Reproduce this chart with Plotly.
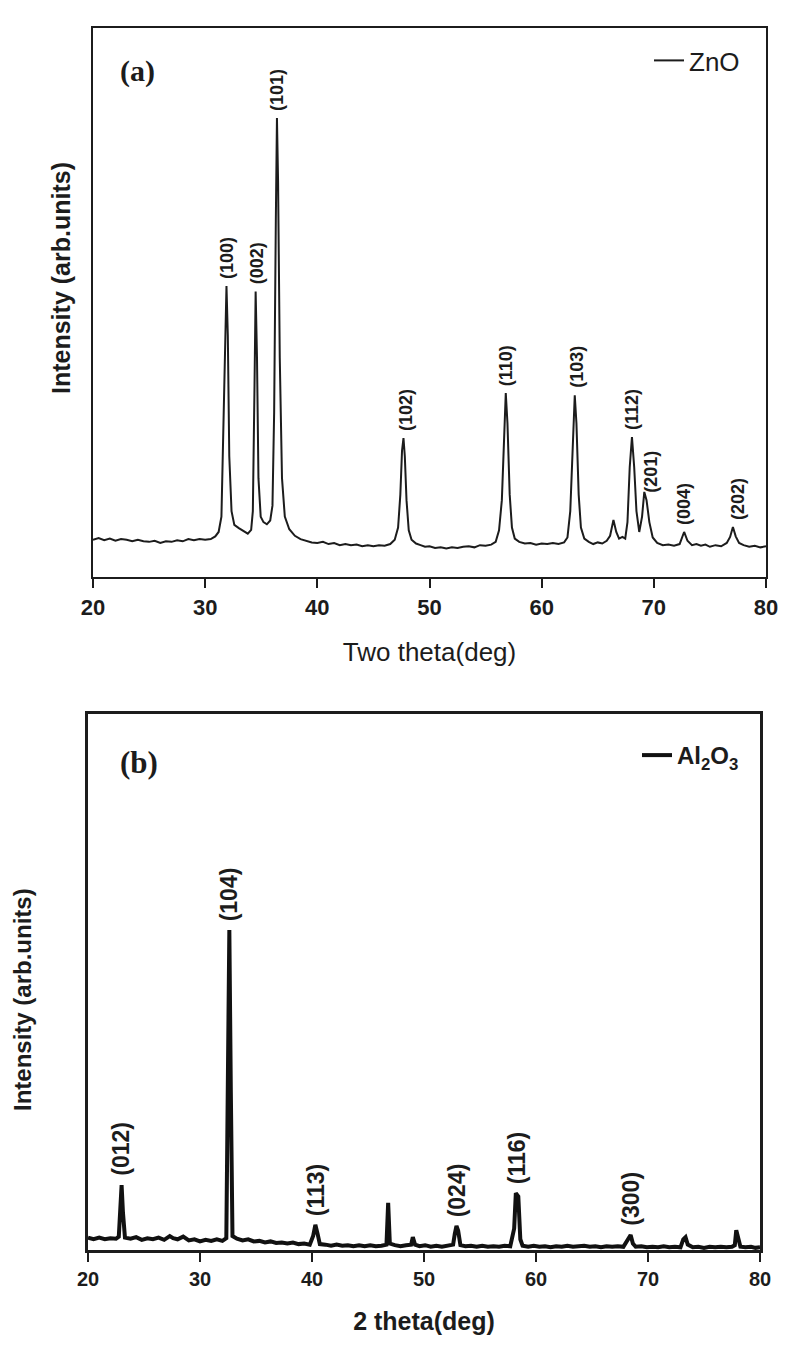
import plotly.graph_objects as go

# ---------------- data: panel (a) ZnO ----------------
zno_two_theta = [20.0, 20.5, 21.0, 21.5, 22.0, 22.5, 23.0, 23.5, 24.0, 24.5, 25.0, 25.5, 26.0, 26.5, 27.0, 27.5,
                 28.0, 28.5, 29.0, 29.5, 30.0, 30.5, 30.9, 31.2, 31.45, 31.65, 31.9, 32.02, 32.15, 32.35, 32.6,
                 33.0, 33.4, 33.8, 34.1, 34.25, 34.4, 34.5, 34.62, 34.75, 34.95, 35.2, 35.5, 35.8, 36.0, 36.15,
                 36.3, 36.4, 36.5, 36.65, 36.85, 37.1, 37.5, 38.0, 38.5, 39.0, 39.5, 40.0, 40.5, 41.0, 41.5,
                 42.0, 42.5, 43.0, 43.5, 44.0, 44.5, 45.0, 45.5, 46.0, 46.5, 46.9, 47.2, 47.4, 47.55, 47.68,
                 47.8, 47.95, 48.15, 48.4, 48.8, 49.2, 49.6, 50.0, 50.5, 51.0, 51.5, 52.0, 52.5, 53.0, 53.5,
                 54.0, 54.5, 55.0, 55.5, 55.9, 56.2, 56.45, 56.65, 56.8, 56.95, 57.15, 57.35, 57.6, 58.0, 58.5,
                 59.0, 59.5, 60.0, 60.5, 61.0, 61.5, 62.0, 62.3, 62.55, 62.78, 62.95, 63.1, 63.3, 63.5, 63.8,
                 64.2, 64.6, 65.0, 65.4, 65.8, 66.1, 66.4, 66.65, 66.9, 67.2, 67.45, 67.65, 67.85, 68.05, 68.25,
                 68.45, 68.7, 68.95, 69.15, 69.35, 69.6, 69.9, 70.3, 70.8, 71.3, 71.8, 72.3, 72.7, 73.0, 73.4,
                 73.8, 74.2, 74.6, 75.0, 75.5, 76.0, 76.5, 76.8, 77.05, 77.3, 77.6, 78.0, 78.5, 79.0, 79.5, 80.0]
zno_intensity = [6.8, 7.1, 6.7, 7.0, 6.6, 6.9, 6.8, 6.5, 6.8, 6.5, 6.4, 6.6, 6.2, 6.5, 6.4, 6.7,
                 6.5, 6.9, 6.7, 6.9, 6.8, 6.9, 7.4, 8.2, 11.0, 30.0, 53.0, 44.0, 22.0, 12.0, 9.5,
                 8.9, 8.4, 7.9, 8.6, 12.0, 35.0, 52.0, 40.0, 18.0, 11.0, 10.0, 9.6, 10.3, 13.0, 30.0,
                 65.0, 83.6, 72.0, 40.0, 18.0, 11.0, 8.7, 7.5, 6.9, 6.6, 6.3, 6.2, 6.4, 6.0, 6.2,
                 5.8, 6.0, 5.8, 5.9, 5.6, 5.8, 5.6, 5.8, 5.7, 6.0, 6.8, 9.0, 15.0, 23.0, 25.3,
                 22.0, 14.0, 8.5, 6.8, 6.1, 5.8, 5.5, 5.6, 5.3, 5.4, 5.2, 5.4, 5.3, 5.5, 5.6,
                 5.4, 5.8, 5.7, 5.9, 6.4, 8.5, 14.0, 27.0, 33.5, 28.0, 15.0, 9.0, 7.0, 6.4, 6.1,
                 6.2, 5.9, 6.1, 6.0, 6.2, 6.0, 6.3, 7.2, 12.0, 25.0, 33.1, 28.0, 15.0, 9.0, 7.0,
                 6.4, 6.0, 6.3, 6.1, 6.6, 7.5, 10.4, 8.2, 7.0, 7.3, 7.0, 10.0, 20.0, 25.5, 20.0,
                 12.0, 8.2, 11.0, 15.5, 14.0, 10.0, 7.2, 6.2, 5.8, 5.9, 5.7, 6.0, 8.2, 6.6, 5.8,
                 6.0, 5.7, 5.9, 5.5, 5.8, 5.6, 6.2, 7.3, 9.1, 7.4, 6.2, 5.8, 5.5, 5.7, 5.4, 5.6]
zno_hkl = ["(100)", "(002)", "(101)", "(102)", "(110)", "(103)", "(112)", "(201)", "(004)", "(202)"]
zno_peak_pos = [31.95, 34.6, 36.4, 47.9, 56.8, 63.2, 68.0, 69.8, 72.7, 77.5]

# ---------------- data: panel (b) Al2O3 ----------------
al_two_theta = [20.0, 20.5, 21.0, 21.5, 22.0, 22.5, 22.75, 22.9, 23.0, 23.12, 23.3, 23.8, 24.3, 24.8, 25.3,
                25.8, 26.3, 26.8, 27.3, 27.6, 28.0, 28.5, 29.0, 29.5, 30.0, 30.5, 31.0, 31.5, 32.0, 32.35,
                32.5, 32.62, 32.75, 32.9, 33.3, 33.8, 34.3, 34.8, 35.3, 35.8, 36.3, 36.8, 37.3, 37.8, 38.3,
                38.8, 39.3, 39.8, 40.1, 40.3, 40.5, 40.7, 41.2, 41.7, 42.2, 42.7, 43.2, 43.7, 44.2, 44.7,
                45.2, 45.7, 46.2, 46.65, 46.8, 46.95, 47.4, 47.9, 48.4, 48.85, 49.0, 49.2, 49.6, 50.1, 50.6,
                51.1, 51.6, 52.1, 52.6, 52.75, 52.9, 53.05, 53.25, 53.7, 54.2, 54.7, 55.2, 55.7, 56.2, 56.7,
                57.2, 57.7, 58.05, 58.2, 58.42, 58.6, 58.8, 59.3, 59.8, 60.3, 60.8, 61.3, 61.8, 62.3, 62.8,
                63.3, 63.8, 64.3, 64.8, 65.3, 65.8, 66.3, 66.8, 67.3, 67.8, 68.25, 68.45, 68.65, 68.9, 69.4,
                69.9, 70.4, 70.9, 71.4, 71.9, 72.4, 72.9, 73.15, 73.35, 73.55, 74.0, 74.5, 75.0, 75.5, 76.0,
                76.5, 77.0, 77.5, 77.75, 77.88, 78.05, 78.25, 78.7, 79.2, 79.6, 80.0]
al_intensity = [2.3, 2.0, 2.3, 2.0, 2.2, 2.1, 2.5, 8.0, 12.1, 7.0, 2.3, 2.1, 2.4, 1.9, 2.2,
                2.0, 2.3, 1.9, 2.6, 2.2, 2.0, 2.5, 1.8, 2.0, 1.6, 1.9, 1.7, 2.0, 1.7, 2.2,
                30.0, 59.7, 30.0, 2.6, 2.1, 1.8, 2.0, 1.6, 1.7, 1.4, 1.6, 1.3, 1.4, 1.2, 1.4,
                1.1, 1.2, 1.0, 2.6, 4.7, 3.0, 1.1, 1.0, 0.8, 1.0, 0.8, 0.9, 0.7, 0.9, 0.7,
                0.9, 0.7, 0.8, 1.0, 8.8, 1.2, 0.9, 0.7, 0.9, 1.0, 2.4, 1.0, 0.7, 0.9, 0.6,
                0.8, 0.6, 0.8, 1.0, 3.0, 4.5, 3.6, 0.9, 0.7, 0.8, 0.6, 0.8, 0.6, 0.7, 0.6,
                0.8, 0.7, 4.0, 10.6, 10.0, 2.0, 0.8, 0.6, 0.8, 0.6, 0.7, 0.5, 0.7, 0.6, 0.8,
                0.6, 0.7, 0.8, 0.6, 0.7, 0.5, 0.7, 0.6, 0.7, 0.6, 2.3, 2.8, 1.2, 0.6, 0.7,
                0.5, 0.6, 0.5, 0.7, 0.5, 0.6, 0.5, 2.0, 2.4, 1.0, 0.5, 0.6, 0.4, 0.6, 0.5,
                0.6, 0.5, 0.6, 0.9, 3.7, 2.5, 0.6, 0.5, 0.6, 0.4, 0.5]
al_hkl = ["(012)", "(104)", "(113)", "(024)", "(116)", "(300)"]
al_peak_pos = [23.0, 32.62, 40.3, 52.9, 58.3, 68.45]

x_ticks = [20, 30, 40, 50, 60, 70, 80]

SANS = "Liberation Sans, Arial, sans-serif"
SERIF = "Liberation Serif, Times New Roman, serif"
INK = "#1c1c1c"

# the page body has an 8px margin: figure spans window px 8..787 / 8..1355
OFF = 8
W, H = 787 - OFF, 1355 - OFF


def px(x):
    return (x - OFF) / W


def py(y):
    return 1 - (y - OFF) / H


def peak_height(xs, ys, pos, win=0.6):
    return max(y for x, y in zip(xs, ys) if abs(x - pos) <= win)


fig = go.Figure()
fig.add_trace(go.Scatter(x=zno_two_theta, y=zno_intensity, mode="lines", name="ZnO",
                         line=dict(color=INK, width=2), xaxis="x", yaxis="y", legend="legend"))
fig.add_trace(go.Scatter(x=al_two_theta, y=al_intensity, mode="lines", name="Al<sub>2</sub>O<sub>3</sub>",
                         line=dict(color="#111111", width=4), xaxis="x2", yaxis="y2", legend="legend2"))

annotations = []
for lab, pos in zip(zno_hkl, zno_peak_pos):
    annotations.append(dict(x=pos, y=peak_height(zno_two_theta, zno_intensity, pos), xref="x", yref="y",
                            text=lab, textangle=-90, showarrow=False, xanchor="center", yanchor="bottom",
                            yshift=5, font=dict(family=SANS, size=18, color=INK, weight="bold")))
for lab, pos in zip(al_hkl, al_peak_pos):
    annotations.append(dict(x=pos, y=peak_height(al_two_theta, al_intensity, pos), xref="x2", yref="y2",
                            text=lab, textangle=-90, showarrow=False, xanchor="center", yanchor="bottom",
                            yshift=7, font=dict(family=SANS, size=23, color=INK, weight="bold")))
# panel tags
annotations.append(dict(x=px(137), y=py(71), xref="paper", yref="paper", text="(a)", showarrow=False,
                        xanchor="center", yanchor="middle",
                        font=dict(family=SERIF, size=30, color=INK, weight="bold")))
annotations.append(dict(x=px(139), y=py(762), xref="paper", yref="paper", text="(b)", showarrow=False,
                        xanchor="center", yanchor="middle",
                        font=dict(family=SERIF, size=31, color=INK, weight="bold")))
# y-axis titles
annotations.append(dict(x=px(61), y=py(278), xref="paper", yref="paper", text="Intensity (arb.units)",
                        textangle=-90, showarrow=False, xanchor="center", yanchor="middle",
                        font=dict(family=SANS, size=25, color=INK, weight="bold")))
annotations.append(dict(x=px(22), y=py(1000), xref="paper", yref="paper", text="Intensity (arb.units)",
                        textangle=-90, showarrow=False, xanchor="center", yanchor="middle", borderpad=0,
                        font=dict(family=SANS, size=24, color=INK, weight="bold")))

common_x = dict(range=[20, 80], tickmode="array", tickvals=x_ticks, ticks="outside", ticklen=9, tickwidth=2,
                tickcolor=INK, showline=True, mirror=True, linecolor=INK, showgrid=False, zeroline=False,
                automargin=False)
common_y = dict(range=[0, 100], showticklabels=False, ticks="", showline=True, mirror=True, linecolor=INK,
                showgrid=False, zeroline=False, automargin=False)

fig.update_layout(
    width=W, height=H, margin=dict(l=0, r=0, t=0, b=0),
    paper_bgcolor="white", plot_bgcolor="white", showlegend=True,
    xaxis=dict(common_x, domain=[px(93), px(766)], anchor="y", linewidth=2.2,
               tickfont=dict(family=SANS, size=22, color=INK, weight="bold"),
               title=dict(text="Two theta(deg)", standoff=24,
                          font=dict(family=SANS, size=26, color=INK))),
    yaxis=dict(common_y, domain=[py(577), py(28)], anchor="x", linewidth=2.2),
    xaxis2=dict(common_x, domain=[px(88), px(760)], anchor="y2", linewidth=2.6,
                tickfont=dict(family=SANS, size=20, color=INK, weight="bold"),
                title=dict(text="2 theta(deg)", standoff=24,
                           font=dict(family=SANS, size=25, color=INK, weight="bold"))),
    yaxis2=dict(common_y, domain=[py(1250), py(714)], anchor="x2", linewidth=2.6),
    legend=dict(x=px(649), y=py(37), xanchor="left", yanchor="top", bgcolor="rgba(0,0,0,0)",
                font=dict(family=SANS, size=26, color=INK)),
    legend2=dict(x=px(637), y=py(733), xanchor="left", yanchor="top", bgcolor="rgba(0,0,0,0)",
                 font=dict(family=SANS, size=24, color=INK, weight="bold")),
    annotations=annotations,
)

fig.write_html("out.html")
